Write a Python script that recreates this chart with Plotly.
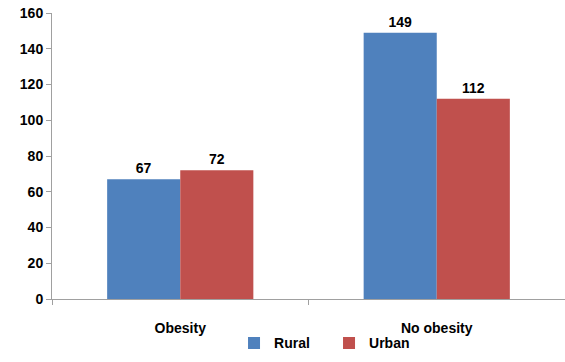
import plotly.graph_objects as go

categories = ["Obesity", "No obesity"]
rural = [67, 149]
urban = [72, 112]
y_ticks = [0, 20, 40, 60, 80, 100, 120, 140, 160]

FONT = "Liberation Sans Narrow, Arial Narrow, Liberation Sans, Arial, sans-serif"
SZ = 14

fig = go.Figure()
fig.add_trace(go.Bar(name="Rural", x=categories, y=rural, marker_color="#4F81BD",
                     marker_line_width=0,
                     text=rural, textposition="outside", cliponaxis=False,
                     textfont=dict(size=SZ, color="#000", family=FONT, weight="bold")))
fig.add_trace(go.Bar(name="Urban", x=categories, y=urban, marker_color="#C0504D",
                     marker_line_width=0,
                     text=urban, textposition="outside", cliponaxis=False,
                     textfont=dict(size=SZ, color="#000", family=FONT, weight="bold")))

fig.update_layout(
    width=565, height=362,
    margin=dict(l=52, r=0, t=13, b=63, autoexpand=False),
    barmode="group", bargap=0.43, bargroupgap=0,
    plot_bgcolor="white", paper_bgcolor="white",
    font=dict(family=FONT, size=SZ, color="#000", weight="bold"),
    showlegend=True,
    legend=dict(orientation="h", x=0.54, xanchor="center", y=-0.155, yanchor="middle",
                bgcolor="rgba(0,0,0,0)",
                font=dict(size=SZ, family=FONT, weight="bold"), itemwidth=30,
                entrywidth=50, entrywidthmode="pixels", tracegroupgap=0),
)
fig.update_yaxes(range=[0, 160], tickvals=y_ticks, showgrid=False, showline=True,
                 linecolor="#A0A0A0", linewidth=1, ticks="outside", ticklen=5,
                 tickcolor="#A0A0A0", zeroline=False,
                 tickfont=dict(size=SZ, family=FONT, weight="bold"))
fig.update_xaxes(showgrid=False, showline=True, linecolor="#A0A0A0", linewidth=1,
                 ticks="outside", ticklen=5, tickcolor="#A0A0A0",
                 tickson="boundaries", ticklabelstandoff=16,
                 tickfont=dict(size=SZ, family=FONT, weight="bold"))

fig.write_html("out.html")
